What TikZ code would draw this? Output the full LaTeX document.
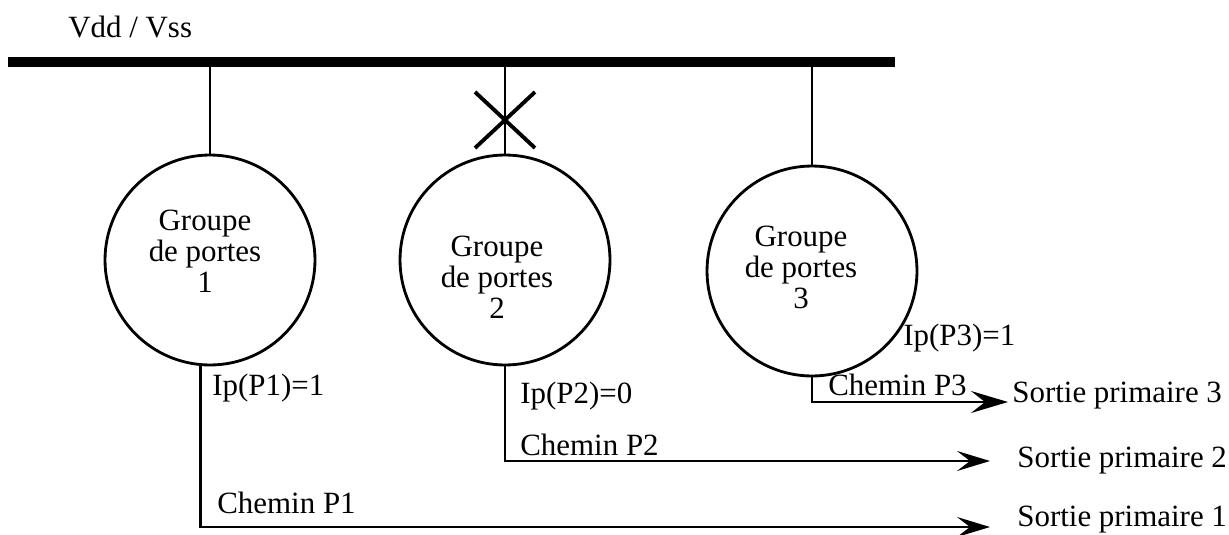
\documentclass[tikz,border=0pt]{standalone}
\usepackage{fontspec}
\setmainfont{Liberation Serif}
\usetikzlibrary{arrows.meta,positioning}
\tikzset{
	porte/.style={draw, circle, minimum size=4.2cm, inner sep=0pt, line width=1.6pt},
	groupe/.style={align=center, inner sep=0pt},
	fil/.style={line width=1.6pt},
	croix/.style={line width=2.2pt},
	fleche/.style={fil, -{Stealth[length=0.66cm, width=0.4cm, inset=0.26cm]}},
	etiq/.style={inner sep=0pt, anchor=base west},
	sortie/.style={inner sep=0pt},
}
\begin{document}
\begin{tikzpicture}[x=0.02cm, y=-0.02cm, font=\fontsize{17.6}{17.6}\selectfont]
		\useasboundingbox (0,0) rectangle (1229,534);
		
		% Draw supply bus
		\node[etiq] (vdd) at (68,37) {Vdd / Vss};
		\coordinate (busG) at (8,62);
		\coordinate (busD) at (895,62);
		\draw[line width=0.2cm] (busG) -- (busD);
		
		% Gate groups
		\node[porte] (g1) at (210,260) {};
		\node[porte] (g2) at (505,260) {};
		\node[porte] (g3) at (812,271) {};
		\node[groupe] (n1) at (205,251) {Groupe\\de portes\\1};
		\node[groupe] (n2) at (497,277) {Groupe\\de portes\\2};
		\node[groupe] (n3) at (801,267) {Groupe\\de portes\\3};
		
		% Supply lines
		\draw[fil] (g1.north) -- (g1.north |- busD);
		\draw[fil] (g2.north) -- (g2.north |- busD);
		\draw[fil] (g3.north) -- (g3.north |- busD);
		
		% Cut on group 2
		\coordinate (coupure) at (g2.north |- 0,120);
		\draw[croix] ([shift={(-30,-28)}]coupure) -- ([shift={(30,28)}]coupure);
		\draw[croix] ([shift={(30,-28)}]coupure) -- ([shift={(-30,28)}]coupure);
		
		% Paths to primary outputs
		\coordinate (t1) at (990,527);
		\coordinate (t2) at (990,461);
		\coordinate (t3) at (1008,402);
		\draw[fleche] (g1.265) |- (t1);
		\draw[fleche] (g2.south) |- (t2);
		\draw[fil, -{Stealth[length=0.74cm, width=0.44cm, inset=0.28cm]}] (g3.south) |- (t3);
		
		% Output labels
		\node[sortie, right=0.54cm of t1, anchor=base west, yshift=0.02cm] (s1) {Sortie primaire 1};
		\node[sortie, right=0.54cm of t2] (s2) {Sortie primaire 2};
		\node[sortie, right=0.08cm of t3, anchor=base west] (s3) {Sortie primaire 3};
		
		% Path labels
		\node[etiq] (ip1) at (212,395) {Ip(P1)=1};
		\node[etiq] (ch1) at (217,513) {Chemin P1};
		\node[etiq] (ip2) at (520,403) {Ip(P2)=0};
		\node[etiq] (ch2) at (520,455) {Chemin P2};
		\node[etiq] (ip3) at (903,345) {Ip(P3)=1};
		\node[etiq] (ch3) at (828,395) {Chemin P3};
	\end{tikzpicture}
\end{document}
